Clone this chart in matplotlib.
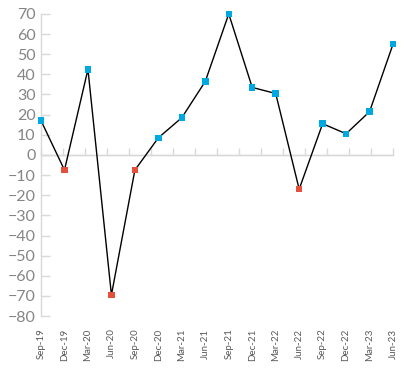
import numpy as np
import matplotlib
matplotlib.use('Agg')
import matplotlib.pyplot as plt

# quarterly values
quarters = ['Sep-19', 'Dec-19', 'Mar-20', 'Jun-20', 'Sep-20', 'Dec-20', 'Mar-21', 'Jun-21',
            'Sep-21', 'Dec-21', 'Mar-22', 'Jun-22', 'Sep-22', 'Dec-22', 'Mar-23', 'Jun-23']
values = [17, -7.5, 42.5, -69.5, -7.5, 8.5, 18.5, 36.5,
          70, 33.5, 30.5, -17, 15.5, 10.5, 21.5, 55]
yticks = np.arange(-80, 71, 10)

blue = '#00a8e1'
red = '#e4503b'
grey = '#d9d9d9'

plt.rcParams['font.family'] = ['Lato', 'DejaVu Sans']

fig = plt.figure(figsize=(4.11, 3.71), dpi=100)
ax = fig.add_axes([0.0998, 0.148, 0.8565, 0.8145])

x = np.arange(len(values))
ax.plot(x, values, color='black', lw=1.0, zorder=2)
cols = [blue if v >= 0 else red for v in values]
ax.scatter(x, values, marker='s', s=22, c=cols, zorder=3, clip_on=False, linewidths=0)

ymin, ymax = -80, 70
ax.set_ylim(ymin, ymax)
ax.set_xlim(0, 15)

for s in ['top', 'right', 'bottom']:
    ax.spines[s].set_visible(False)
ax.spines['left'].set_color(grey)
ax.spines['left'].set_linewidth(1.0)

ax.set_yticks(yticks)
ax.tick_params(axis='y', direction='in', length=6.5, width=1.0, color=grey,
               labelsize=11.5, labelcolor='#858585', pad=4)

ax.set_xticks(x)
ax.set_xticklabels(quarters, rotation=90, fontsize=7, color='#595959')
ax.tick_params(axis='x', length=0, pad=9)

# zero line with its own tick marks
ax.axhline(0, color=grey, lw=1.0, zorder=1)
sec = ax.secondary_xaxis((0 - ymin) / (ymax - ymin))
sec.set_xticks(np.linspace(0, 15, 17))
sec.set_xticklabels([])
for sp in sec.spines.values():
    sp.set_color(grey)
    sp.set_linewidth(1.0)
sec.tick_params(axis='x', direction='out', length=5, width=1.0, color=grey)

fig.savefig('out.png', dpi=100)
